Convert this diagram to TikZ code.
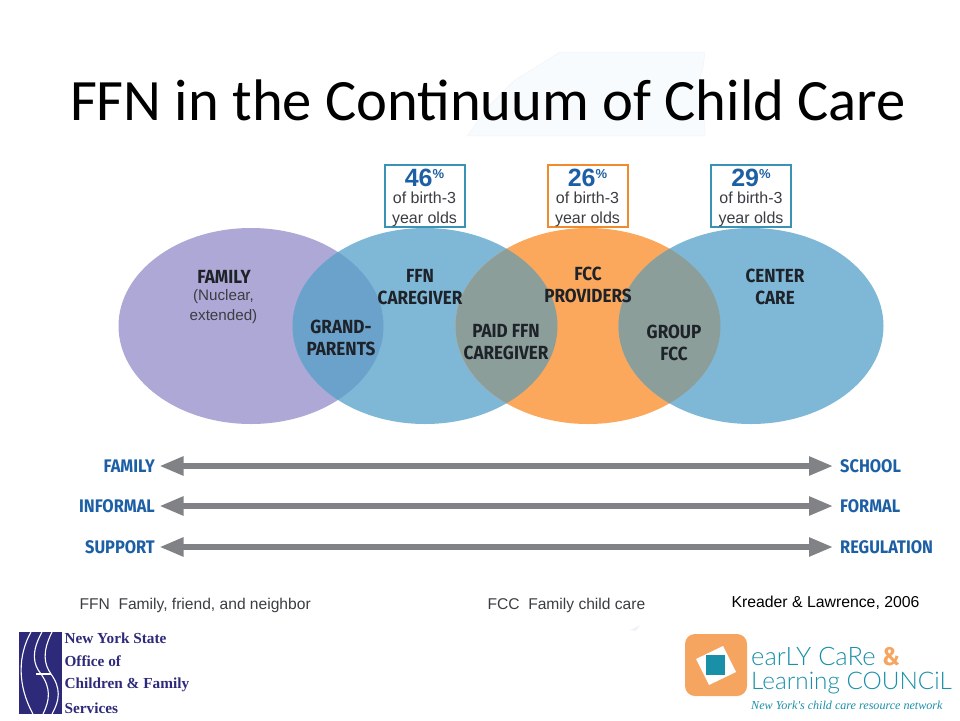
\documentclass[tikz,border=0pt]{standalone}
\usepackage{fontspec}
\setmainfont{Liberation Sans}
\newfontfamily\titlefont{Carlito}
\newfontfamily\narrowfont[FakeStretch=0.9]{Fira Sans}
\newfontfamily\logofont{Liberation Serif}
\newfontfamily\councilfont{Lato Light}
\usetikzlibrary{arrows.meta}

\definecolor{purpleoval}{HTML}{ADA8D6}
\definecolor{blueoval}{HTML}{7FB7D6}
\definecolor{orangeoval}{HTML}{FBA85C}
\definecolor{bluepurple}{HTML}{6BA2CB}
\definecolor{greyoverlap}{HTML}{8C9E9A}
\definecolor{labelblue}{HTML}{1D5FA5}
\definecolor{boxblue}{HTML}{3A93B5}
\definecolor{boxorange}{HTML}{F08A2D}
\definecolor{arrowgrey}{HTML}{808285}
\definecolor{inkdark}{HTML}{1E2229}
\definecolor{inkgrey}{HTML}{3A3D42}
\definecolor{nysnavy}{HTML}{2E2A7A}
\definecolor{logoteal}{HTML}{1A8FA8}
\definecolor{logoorange}{HTML}{F6A561}
\definecolor{mapblue}{HTML}{F8FBFD}
\definecolor{mapedge}{HTML}{EEF3F8}

\tikzset{
	ovaltext/.style={color=inkdark,align=center,font=\narrowfont\bfseries\fontsize{19}{22}\selectfont},
	subtext/.style={color=inkgrey,align=center,font=\fontsize{15.2}{20.5}\selectfont},
	pctbox/.style={draw,line width=2pt,fill=white,minimum width=80pt,minimum height=62pt},
	pcttext/.style={color=inkgrey,align=center,font=\fontsize{16}{20}\selectfont},
	endlabel/.style={color=labelblue,inner sep=0pt,font=\narrowfont\bfseries\fontsize{18.2}{22}\selectfont},
	bigarrow/.style={arrowgrey,line width=5.5pt,{Triangle[length=24pt,width=18pt]}-{Triangle[length=24pt,width=18pt]},shorten <=4.5pt,shorten >=7pt},
	nystext/.style={color=nysnavy,anchor=west,font=\logofont\bfseries\fontsize{15.3}{18}\selectfont},
	noteline/.style={color=inkgrey,anchor=west,font=\fontsize{15.6}{18}\selectfont},
	counciltext/.style={color=logoteal,anchor=base west,inner sep=0pt,font=\councilfont\fontsize{25.5}{30}\selectfont}
}

\newcommand{\pctline}[1]{{\color{labelblue}\bfseries\fontsize{25}{25}\selectfont #1\raisebox{8pt}{\fontsize{13}{13}\selectfont\%}}}

\begin{document}
\begin{tikzpicture}[x=1pt,y=-1pt]
		\useasboundingbox (0,0) rectangle (960,720);
		
		% pale map behind the title
		\fill[mapblue,draw=mapedge] (467,136) -- (490,105) -- (515,80) -- (560,52) -- (705,52) -- (703,68) -- (700,76) -- (704,90) -- (705,136) -- cycle;
		\fill[mapedge] (630,630) -- (640,625) -- (636,631) -- cycle;
		\node[anchor=base,font=\titlefont\fontsize{58.6}{64}\selectfont] (title) at (488,120) {FFN in the Continuum of Child Care};
		
		% ovals
		\fill[purpleoval] (251,326) ellipse (132.5 and 98);
		\fill[blueoval] (425,326) ellipse (132.5 and 98);
		\fill[orangeoval] (588,326) ellipse (132.5 and 98);
		\fill[blueoval] (751,326) ellipse (132.5 and 98);
		
		% overlaps
		\begin{scope}
			\clip (251,326) ellipse (132.5 and 98);
			\fill[bluepurple] (425,326) ellipse (132.5 and 98);
		\end{scope}
		\begin{scope}
			\clip (425,326) ellipse (132.5 and 98);
			\fill[greyoverlap] (588,326) ellipse (132.5 and 98);
		\end{scope}
		\begin{scope}
			\clip (588,326) ellipse (132.5 and 98);
			\fill[greyoverlap] (751,326) ellipse (132.5 and 98);
		\end{scope}
		
		\node[ovaltext] (family) at (224,277) {FAMILY};
		\node[subtext] (nuclear) at (223.5,306.5) {(Nuclear,\\extended)};
		\node[ovaltext] (grand) at (341,338) {GRAND-\\PARENTS};
		\node[ovaltext] (ffn) at (420,287) {FFN\\CAREGIVER};
		\node[ovaltext] (paid) at (506,342) {PAID FFN\\CAREGIVER};
		\node[ovaltext] (fcc) at (588,285) {FCC\\PROVIDERS};
		\node[ovaltext] (group) at (674,343) {GROUP\\FCC};
		\node[ovaltext] (center) at (775,287) {CENTER\\CARE};
		
		% percent boxes
		\node[pctbox,draw=boxblue] (boxffn) at (424.5,195.5) {};
		\node[pctbox,draw=boxorange] (boxfcc) at (587.5,195.5) {};
		\node[pctbox,draw=boxblue] (boxcenter) at (751,195.5) {};
		\node[pcttext] (pctffn) at (424.5,198) {\pctline{46}\\[-3pt]of birth-3\\year olds};
		\node[pcttext] (pctfcc) at (587.5,198) {\pctline{26}\\[-3pt]of birth-3\\year olds};
		\node[pcttext] (pctcenter) at (751,198) {\pctline{29}\\[-3pt]of birth-3\\year olds};
		
		% continuum arrows
		\node[endlabel,anchor=east] (left1) at (155,466) {FAMILY};
		\node[endlabel,anchor=east] (left2) at (155,506) {INFORMAL};
		\node[endlabel,anchor=east] (left3) at (155,547) {SUPPORT};
		\node[endlabel,anchor=west] (right1) at (840,466) {SCHOOL};
		\node[endlabel,anchor=west] (right2) at (840,506) {FORMAL};
		\node[endlabel,anchor=west] (right3) at (840,547) {REGULATION};
		
		\draw[bigarrow] (left1) -- (right1);
		\draw[bigarrow] (left2) -- (right2);
		\draw[bigarrow] (left3) -- (right3);
		
		\node[noteline] (noteffn) at (76,605.5) {FFN\ \ Family, friend, and neighbor};
		\node[noteline] (notefcc) at (484,605.5) {FCC\ \ Family child care};
		\node[anchor=east,font=\fontsize{15.8}{18}\selectfont] (cite) at (923,603) {Kreader \& Lawrence, 2006};
		
		% state office logo
		\fill[nysnavy] (19,632) rectangle (62,714);
		\draw[white,line width=1.1pt] (31,632) .. controls (18,655) and (17,685) .. (33,714);
		\draw[white,line width=1.1pt] (42,632) .. controls (31,652) and (33,664) .. (41,674) .. controls (51,688) and (50,700) .. (43,714);
		\draw[white,line width=1.1pt] (52,632) .. controls (42,652) and (44,664) .. (51,674) .. controls (61,688) and (60,700) .. (52,714);
		\draw[white,line width=1.1pt] (36,674) -- (51,674);
		\node[nystext] (nys1) at (61,638) {New York State};
		\node[nystext] (nys2) at (61,661) {Office of};
		\node[nystext] (nys3) at (61,685) {Children \& Family};
		\node[nystext] (nys4) at (61,708) {Services};
		
		% council logo
		\fill[logoorange,rounded corners=10pt] (685,634) rectangle (747,696);
		\fill[white] (696,659) -- (723,646) -- (736,672) -- (709,685) -- cycle;
		\fill[logoteal] (706,655) rectangle (725,675);
		\node[counciltext] (early) at (751,665) {earLY CaRe {\color{logoorange}\narrowfont\bfseries\&}};
		\node[counciltext,font=\councilfont\fontsize{24.3}{30}\selectfont] (learning) at (751,689) {Learning COUNCiL};
		\node[color=logoteal,anchor=base west,inner sep=0pt,font=\logofont\itshape\fontsize{12.1}{16}\selectfont] (tagline) at (751,709) {New York's child care resource network};
		
		\end{tikzpicture}
\end{document}
